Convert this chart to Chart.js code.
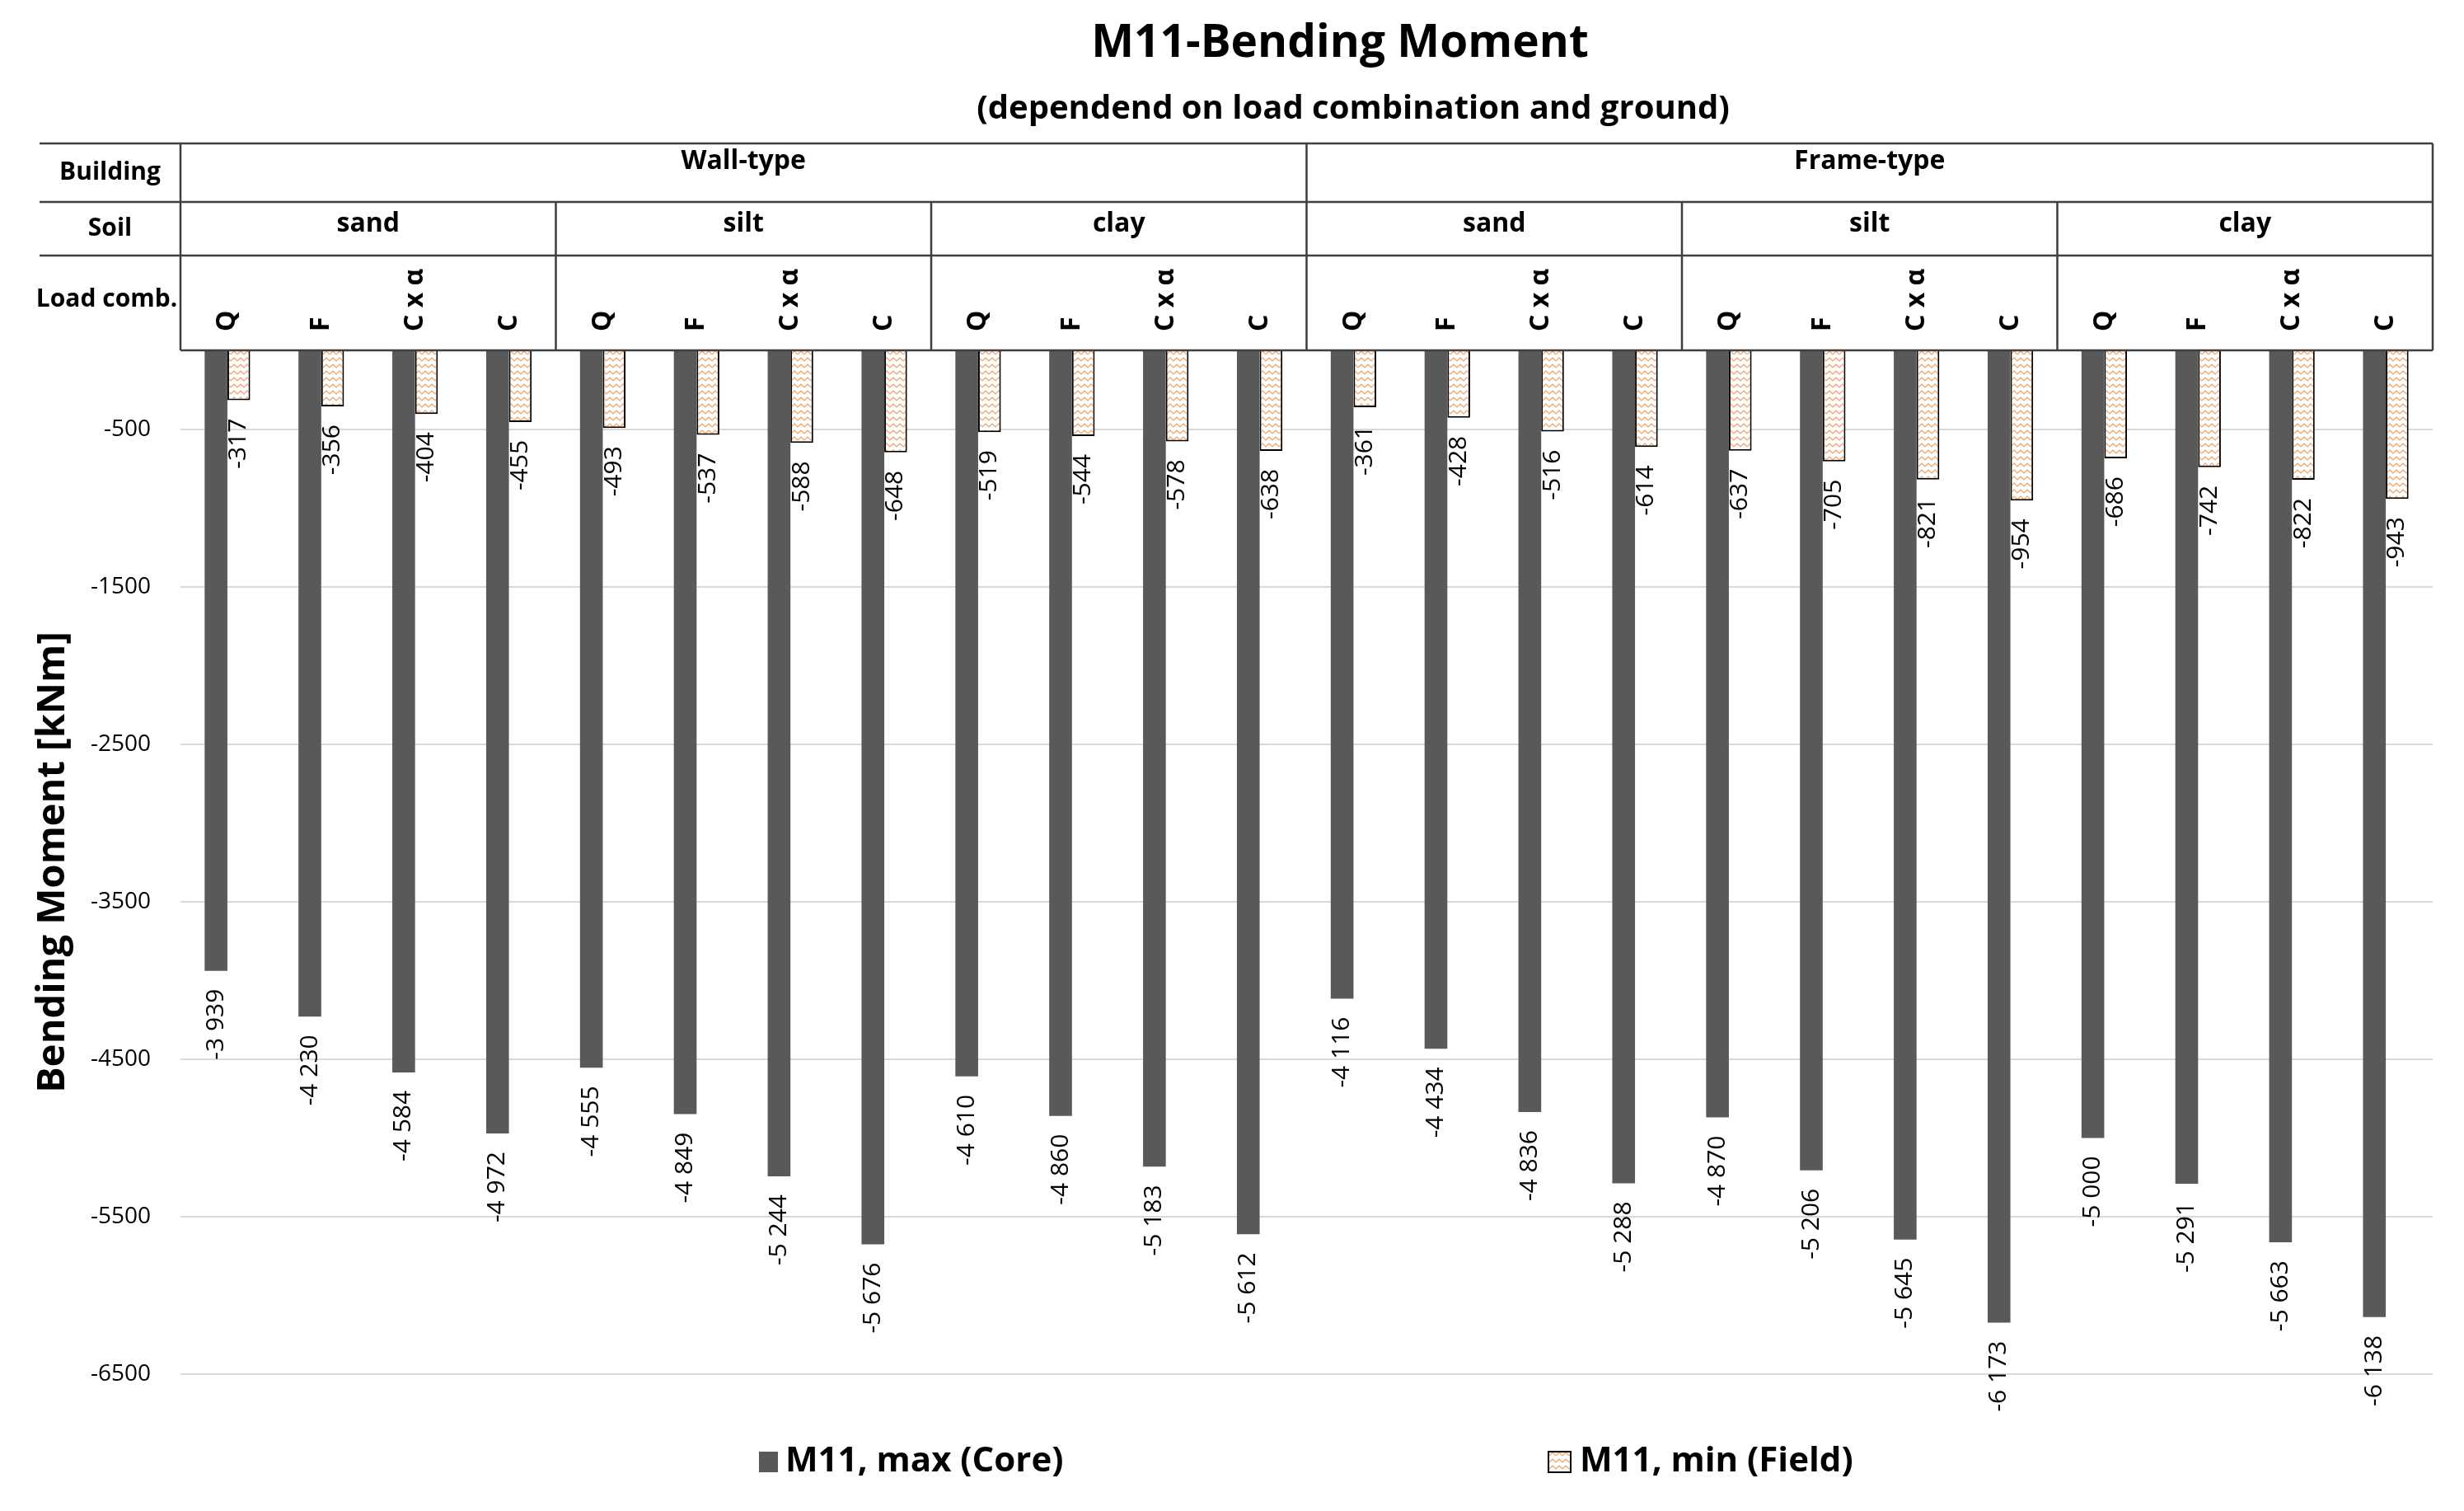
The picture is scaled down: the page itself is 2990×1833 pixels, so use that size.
<!DOCTYPE html>
<html>
<head>
<meta charset="utf-8">
<title>M11-Bending Moment</title>
<style>
    html, body { margin: 0; padding: 0; background: #fff; }
    canvas { display: block; }
</style>
</head>
<body>
<canvas id="momentChart" width="2990" height="1833"></canvas>

<script src="https://cdn.jsdelivr.net/npm/chart.js"></script>
<script>
    // Header levels: building > soil > load combination
    const buildings = ['Wall-type', 'Frame-type'];
    const soils = ['sand', 'silt', 'clay'];
    const loadCombs = ['Q', 'F', 'C x α', 'C'];

    // M11, max (Core) [kNm]
    const coreMax = [
        -3939, -4230, -4584, -4972,
        -4555, -4849, -5244, -5676,
        -4610, -4860, -5183, -5612,
        -4116, -4434, -4836, -5288,
        -4870, -5206, -5645, -6173,
        -5000, -5291, -5663, -6138
    ];

    // M11, min (Field) [kNm]
    const fieldMin = [
        -317, -356, -404, -455,
        -493, -537, -588, -648,
        -519, -544, -578, -638,
        -361, -428, -516, -614,
        -637, -705, -821, -954,
        -686, -742, -822, -943
    ];

    const yTicks = [-6500, -5500, -4500, -3500, -2500, -1500, -500];

    const categories = [];
    buildings.forEach(b => soils.forEach(s => loadCombs.forEach(l => categories.push(l))));

    const FONT = '"Open Sans", "DejaVu Sans", sans-serif';
    const CORE_COLOR = '#595959';
    const LINE_COLOR = '#3f3f3f';

    // zigzag fill for the field bars
    function zigzagPattern() {
        const c = document.createElement('canvas');
        c.width = 8; c.height = 8;
        const p = c.getContext('2d');
        p.fillStyle = '#fff';
        p.fillRect(0, 0, 8, 8);
        p.strokeStyle = '#f2ad7c';
        p.lineWidth = 1.4;
        p.beginPath();
        p.moveTo(0, 6); p.lineTo(4, 2); p.lineTo(8, 6);
        p.stroke();
        return p.createPattern(c, 'repeat');
    }

    const canvas = document.getElementById('momentChart');
    const fieldFill = zigzagPattern();

    function fmt(v) {
        const a = Math.abs(v);
        const s = a >= 1000 ? Math.floor(a / 1000) + ' ' + String(a % 1000).padStart(3, '0') : String(a);
        return (v < 0 ? '-' : '') + s;
    }

    // titles, header table, value labels and legend
    const decorations = {
        id: 'decorations',
        afterDatasetsDraw(chart) {
            const {ctx} = chart;
            ctx.save();
            ctx.fillStyle = '#000';
            ctx.font = '30px ' + FONT;
            ctx.textAlign = 'right';
            ctx.textBaseline = 'middle';
            chart.data.datasets.forEach((ds, di) => {
                chart.getDatasetMeta(di).data.forEach((bar, i) => {
                    ctx.save();
                    ctx.translate(bar.x, bar.y + 22);
                    ctx.rotate(-Math.PI / 2);
                    ctx.fillText(fmt(ds.data[i]), 0, 0);
                    ctx.restore();
                });
            });
            ctx.restore();
        },
        afterDraw(chart) {
            const {ctx, chartArea, scales: {x}} = chart;
            const catW = (chartArea.right - chartArea.left) / categories.length;
            const left = 48, colX = chartArea.left, right = chartArea.right;
            const rowTop = 174, rowSoil = 245, rowLoad = 310, rowEnd = chartArea.top;
            const edge = i => x.getPixelForValue(i) - catW / 2;

            ctx.save();
            ctx.fillStyle = '#000';
            ctx.textAlign = 'center';
            ctx.textBaseline = 'middle';

            // title
            ctx.font = 'bold 55px ' + FONT;
            ctx.fillText('M11-Bending Moment', 1626, 53);
            ctx.font = 'bold 40px ' + FONT;
            ctx.fillText('(dependend on load combination and ground)', 1642, 133);

            // table lines
            ctx.strokeStyle = LINE_COLOR;
            ctx.lineWidth = 2.5;
            ctx.beginPath();
            [rowTop, rowSoil, rowLoad].forEach(y => { ctx.moveTo(left, y); ctx.lineTo(right, y); });
            ctx.moveTo(colX, rowEnd); ctx.lineTo(right, rowEnd);
            ctx.moveTo(colX, rowTop); ctx.lineTo(colX, rowEnd);
            ctx.moveTo(right, rowTop); ctx.lineTo(right, rowEnd);
            const perBuilding = soils.length * loadCombs.length;
            for (let b = 1; b < buildings.length; b++) {
                const bx = edge(b * perBuilding);
                ctx.moveTo(bx, rowTop); ctx.lineTo(bx, rowSoil);
            }
            for (let g = 1; g < buildings.length * soils.length; g++) {
                const gx = edge(g * loadCombs.length);
                ctx.moveTo(gx, rowSoil); ctx.lineTo(gx, rowEnd);
            }
            ctx.stroke();

            // row headings
            const headX = (left + colX) / 2;
            ctx.font = 'bold 30px ' + FONT;
            ctx.fillText('Building', headX, (rowTop + rowSoil) / 2);
            ctx.fillText('Soil', headX, (rowSoil + rowLoad) / 2);
            ctx.fillText('Load comb.', headX - 4, (rowLoad + rowEnd) / 2 - 4);

            // building + soil labels
            ctx.font = 'bold 32px ' + FONT;
            buildings.forEach((b, bi) => {
                const x0 = edge(bi * perBuilding), x1 = edge((bi + 1) * perBuilding - 1) + catW;
                ctx.fillText(b, (x0 + x1) / 2, 196);
                soils.forEach((s, si) => {
                    const start = bi * perBuilding + si * loadCombs.length;
                    const s0 = edge(start), s1 = edge(start + loadCombs.length - 1) + catW;
                    ctx.fillText(s, (s0 + s1) / 2, 272);
                });
            });

            // load combination labels (rotated)
            ctx.textAlign = 'left';
            categories.forEach((c, i) => {
                ctx.save();
                ctx.translate(x.getPixelForValue(i), 402);
                ctx.rotate(-Math.PI / 2);
                ctx.fillText(c, 0, 0);
                ctx.restore();
            });

            // legend
            const legY = 1773;
            ctx.font = 'bold 42px ' + FONT;
            ctx.fillStyle = CORE_COLOR;
            ctx.fillRect(921, legY - 12, 23, 25);
            ctx.fillStyle = fieldFill;
            ctx.fillRect(1879, legY - 12, 27, 25);
            ctx.strokeStyle = '#000';
            ctx.lineWidth = 2;
            ctx.strokeRect(1879, legY - 12, 27, 25);
            ctx.fillStyle = '#000';
            ctx.fillText(chart.data.datasets[0].label, 953, legY);
            ctx.fillText(chart.data.datasets[1].label, 1917, legY);
            ctx.restore();
        }
    };

    new Chart(canvas, {
        type: 'bar',
        data: {
            labels: categories,
            datasets: [{
                label: 'M11, max (Core)',
                data: coreMax,
                backgroundColor: CORE_COLOR,
                borderWidth: 0
            }, {
                label: 'M11, min (Field)',
                data: fieldMin,
                backgroundColor: fieldFill,
                borderColor: '#000',
                borderWidth: 2
            }]
        },
        options: {
            responsive: false,
            animation: false,
            devicePixelRatio: 1,
            categoryPercentage: 0.485,
            barPercentage: 1,
            layout: { padding: { left: 0, right: 38, top: 425, bottom: 166 } },
            plugins: {
                legend: { display: false },
                tooltip: { enabled: false }
            },
            scales: {
                x: { display: false },
                y: {
                    min: -6500,
                    max: 0,
                    afterFit: (scale) => { scale.width = 219; },
                    afterBuildTicks: (scale) => { scale.ticks = yTicks.map(v => ({ value: v })); },
                    border: { display: false },
                    grid: { color: '#d9d9d9', lineWidth: 2, drawTicks: false },
                    ticks: {
                        color: '#000',
                        padding: 36,
                        font: { family: FONT, size: 28 },
                        callback: (v) => String(v)
                    },
                    title: {
                        display: true,
                        text: 'Bending Moment [kNm]',
                        color: '#000',
                        padding: { top: 36 },
                        font: { family: FONT, size: 47, weight: 'bold' }
                    }
                }
            }
        },
        plugins: [decorations]
    });
</script>
</body>
</html>
